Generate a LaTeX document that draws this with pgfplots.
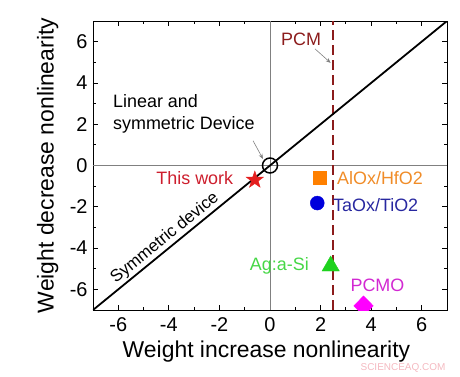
\documentclass[border=0pt]{standalone}
\usepackage{fontspec}
\setmainfont{Liberation Sans}
\usepackage{pgfplots}
\pgfplotsset{compat=1.18}
\usetikzlibrary{arrows.meta}
\usepgflibrary{plotmarks}
\definecolor{pcm}{RGB}{140,28,28}
\definecolor{twtext}{RGB}{205,30,45}
\definecolor{twmark}{RGB}{228,30,30}
\definecolor{orgtext}{RGB}{240,140,40}
\definecolor{orgmark}{RGB}{255,128,0}
\definecolor{blutext}{RGB}{40,40,160}
\definecolor{blumark}{RGB}{0,0,220}
\definecolor{grntext}{RGB}{70,215,70}
\definecolor{grnmark}{RGB}{30,210,30}
\definecolor{magtext}{RGB}{210,40,210}
\definecolor{magmark}{RGB}{255,0,255}
\definecolor{wmark}{RGB}{244,185,192}
\pgfdeclareplotmark{fstar}{%
  \pgfpathmoveto{\pgfpointpolar{90}{\pgfplotmarksize}}%
  \pgfpathlineto{\pgfpointpolar{126}{0.4\pgfplotmarksize}}%
  \pgfpathlineto{\pgfpointpolar{162}{\pgfplotmarksize}}%
  \pgfpathlineto{\pgfpointpolar{198}{0.4\pgfplotmarksize}}%
  \pgfpathlineto{\pgfpointpolar{234}{\pgfplotmarksize}}%
  \pgfpathlineto{\pgfpointpolar{270}{0.4\pgfplotmarksize}}%
  \pgfpathlineto{\pgfpointpolar{306}{\pgfplotmarksize}}%
  \pgfpathlineto{\pgfpointpolar{342}{0.4\pgfplotmarksize}}%
  \pgfpathlineto{\pgfpointpolar{18}{\pgfplotmarksize}}%
  \pgfpathlineto{\pgfpointpolar{54}{0.4\pgfplotmarksize}}%
  \pgfpathclose\pgfusepathqfillstroke}
\begin{document}
\begin{tikzpicture}
\begin{axis}[
  scale only axis, width=354bp, height=289bp,
  xmin=-7, xmax=7, ymin=-7, ymax=7,
  xtick={-6,-4,-2,0,2,4,6}, ytick={-6,-4,-2,0,2,4,6},
  xticklabels={-6,-4,-2,0,2,4,6}, yticklabels={-6,-4,-2,0,2,4,6},
  minor tick num=1,
  tick align=inside,
  major tick length=5bp, minor tick length=3bp,
  tick style={black, line width=0.8bp},
  axis line style={line width=0.9bp},
  ticklabel style={font=\fontsize{20}{20}\selectfont},
  xticklabel style={yshift=-4bp},
  yticklabel style={xshift=-2bp},
  xlabel={Weight increase nonlinearity},
  ylabel={Weight decrease nonlinearity},
  label style={font=\fontsize{23}{23}\selectfont},
  xlabel style={at={(axis description cs:0.49,-0.145)}, anchor=center},
  ylabel style={at={(axis description cs:-0.128,0.5)}, anchor=center},
  clip marker paths=true,
]
\addplot[gray, line width=0.6bp, forget plot] coordinates {(0,-7) (0,7)};
\addplot[gray, line width=0.6bp, forget plot] coordinates {(-7,0) (7,0)};
\addplot[pcm, line width=2.2bp, dash pattern=on 10bp off 5bp] coordinates {(2.5,-7) (2.5,7)};
\addplot[black, line width=1.8bp] coordinates {(-7,-7) (7,7)};
\addplot[only marks, mark=o, mark size=7.5bp, mark options={line width=1.5bp, draw=black}] coordinates {(0,0)};
\addplot[only marks, mark=fstar, mark size=9bp, mark options={fill=twmark, draw=twmark}] coordinates {(-0.6,-0.7)};
\addplot[only marks, mark=square*, mark size=6.5bp, mark options={fill=orgmark, draw=orgmark}] coordinates {(1.95,-0.6)};
\addplot[only marks, mark=*, mark size=7bp, mark options={fill=blumark, draw=blumark}] coordinates {(1.87,-1.82)};
\addplot[only marks, mark=triangle*, mark size=10bp, mark options={fill=grnmark, draw=grnmark}] coordinates {(2.4,-4.87)};
\addplot[only marks, mark=diamond*, mark size=10bp, mark options={fill=magmark, draw=magmark, xscale=1.3}] coordinates {(3.7,-6.8)};

\node[align=left, anchor=north west, inner sep=0pt, font=\fontsize{18}{22}\selectfont] at (axis cs:-6.21,3.45) {Linear and\\symmetric Device};
\draw[gray, -{Stealth[length=5bp,width=4bp]}, line width=0.6bp] (axis cs:-0.67,1.2) -- (axis cs:-0.28,0.32);
\node[pcm, font=\fontsize{18}{18}\selectfont] at (axis cs:1.23,6.13) {PCM};
\draw[gray, -{Stealth[length=5bp,width=4bp]}, line width=0.6bp] (axis cs:1.78,5.65) -- (axis cs:2.4,4.97);
\node[twtext, anchor=east, inner sep=0pt, font=\fontsize{18}{18}\selectfont] at (axis cs:-1.45,-0.6) {This work};
\node[orgtext, anchor=west, inner sep=0pt, font=\fontsize{18}{18}\selectfont] at (axis cs:2.65,-0.6) {AlOx/HfO2};
\node[blutext, anchor=west, inner sep=0pt, font=\fontsize{18}{18}\selectfont] at (axis cs:2.49,-1.91) {TaOx/TiO2};
\node[grntext, anchor=east, inner sep=0pt, font=\fontsize{18}{18}\selectfont] at (axis cs:1.54,-4.87) {Ag:a-Si};
\node[magtext, font=\fontsize{18}{18}\selectfont] at (axis cs:4.25,-5.79) {PCMO};
\node[black, rotate=39.2, anchor=south, inner sep=2bp, font=\fontsize{17}{17}\selectfont] at (axis cs:-3.9,-3.9) {Symmetric device};
\end{axis}
\node[wmark, font=\fontsize{10}{10}\selectfont] at ([shift={(310bp,-58bp)}]current axis.south west) {SCIENCEAQ.COM};
\pgfresetboundingbox
\path[use as bounding box] ([shift={(-93bp,-67bp)}]current axis.south west) rectangle ([shift={(367bp,310bp)}]current axis.south west);
\end{tikzpicture}
\end{document}
